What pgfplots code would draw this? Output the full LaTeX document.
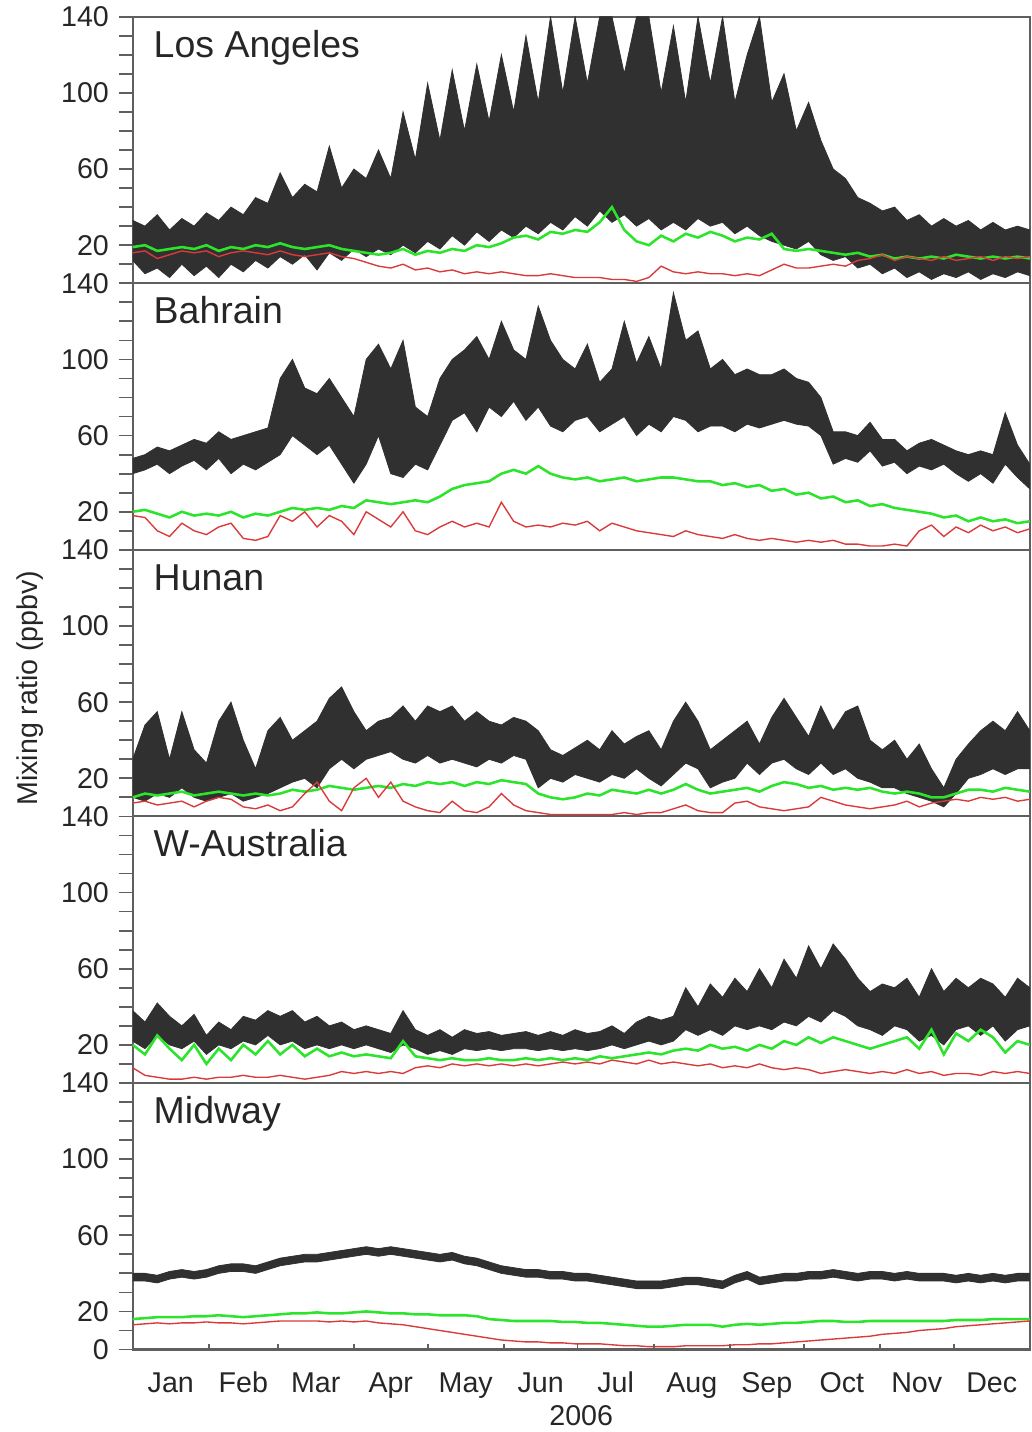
\documentclass[border=0pt]{standalone}
\usepackage{pgfplots}
\pgfplotsset{compat=1.18}
\usepackage{pgfplotstable}
\usepgfplotslibrary{fillbetween}
\usepackage{fontspec}
\setmainfont{Liberation Sans}
\definecolor{band}{RGB}{48,48,48}
\definecolor{grn}{RGB}{45,228,45}
\definecolor{rdc}{RGB}{218,58,58}
\definecolor{frame}{RGB}{95,95,95}

\pgfplotstableread{
d lo hi gr rd
0 12 33 19 16
5 5 30 20 17
10 8 36 17 13
15 3 28 18 15
20 10 34 19 17
25 4 30 18 16
30 9 37 20 17
35 3 33 17 14
40 10 40 19 16
45 6 36 18 17
50 12 45 20 16
55 8 42 19 15
60 14 58 21 17
65 10 45 19 15
70 15 52 18 14
75 7 48 19 15
80 16 72 20 16
85 12 50 18 14
90 18 60 17 13
95 14 55 16 11
100 18 70 15 9
105 15 55 16 8
110 20 90 18 10
115 16 65 15 7
120 22 105 17 8
125 18 75 16 6
130 25 112 18 7
135 20 80 17 5
140 27 115 20 6
145 22 85 19 5
150 28 120 21 6
155 24 90 24 5
160 30 130 25 4
165 26 95 23 4
170 32 140 27 5
175 28 100 26 4
180 35 140 28 3
185 30 105 27 3
190 38 140 32 3
195 32 140 40 2
200 36 110 28 2
205 30 140 22 1
210 34 140 20 3
215 28 100 25 9
220 32 135 22 6
225 28 95 26 5
230 34 140 24 6
235 30 105 27 5
240 32 140 25 5
245 26 95 22 4
250 30 120 24 5
255 25 140 23 4
260 22 95 26 7
265 20 110 18 10
270 18 80 17 8
275 22 95 18 8
280 15 75 17 9
285 12 60 16 10
290 14 55 15 9
295 8 45 16 12
300 10 42 14 13
305 5 38 15 15
310 8 40 13 12
315 3 33 14 14
320 6 36 13 13
325 2 30 14 12
330 5 34 13 14
335 3 30 15 12
340 6 33 14 13
345 2 28 13 14
350 5 32 14 12
355 3 28 13 14
360 6 30 14 13
365 4 28 13 14
}\tabLA

\pgfplotstableread{
d lo hi gr rd
0 40 48 20 18
5 42 50 21 17
10 45 54 19 10
15 40 52 17 7
20 44 55 20 14
25 47 58 18 10
30 42 56 19 8
35 48 62 18 12
40 40 58 20 14
45 45 60 17 6
50 42 62 19 5
55 46 64 18 7
60 50 90 20 18
65 60 100 22 15
70 55 85 21 20
75 50 82 22 12
80 55 90 21 18
85 45 80 23 15
90 35 70 22 8
95 45 100 26 20
100 60 108 25 16
105 40 95 24 12
110 38 110 25 20
115 45 75 26 10
120 42 70 25 8
125 55 90 28 12
130 68 100 32 15
135 72 105 34 12
140 62 112 35 14
145 75 100 36 12
150 70 120 40 25
155 78 105 42 15
160 68 100 40 12
165 75 128 44 13
170 65 110 40 12
175 62 100 38 14
180 68 95 37 13
185 70 108 38 15
190 62 88 36 10
195 66 95 37 14
200 70 120 38 12
205 60 98 36 10
210 66 112 37 9
215 62 95 38 8
220 70 135 38 7
225 68 110 37 10
230 62 115 36 8
235 65 95 36 7
240 65 100 34 6
245 62 92 35 8
250 66 95 33 6
255 64 92 34 5
260 66 92 31 6
265 68 95 32 5
270 66 90 29 4
275 65 88 30 5
280 60 80 27 4
285 45 62 28 5
290 48 62 25 3
295 46 60 26 3
300 52 67 23 2
305 44 58 24 2
310 46 58 22 3
315 40 52 21 2
320 44 56 20 10
325 42 58 19 13
330 45 55 17 7
335 40 52 18 12
340 36 50 15 9
345 40 52 17 13
350 35 50 15 10
355 45 72 16 12
360 38 55 14 9
365 32 45 15 11
}\tabBH

\pgfplotstableread{
d lo hi gr rd
0 10 30 10 7
5 8 48 12 8
10 12 55 11 6
15 10 30 12 7
20 15 55 13 8
25 10 35 11 5
30 8 28 12 8
35 10 50 13 10
40 12 60 12 9
45 8 40 11 5
50 10 25 12 4
55 12 45 11 6
60 15 52 12 3
65 18 40 14 5
70 20 45 13 12
75 15 50 14 18
80 25 62 16 8
85 30 68 15 3
90 25 55 14 15
95 30 45 15 20
100 32 50 16 10
105 34 52 15 18
110 30 58 17 8
115 28 50 16 5
120 32 58 18 3
125 28 55 17 2
130 30 58 18 8
135 28 50 16 3
140 26 55 18 2
145 30 50 17 5
150 28 48 19 12
155 32 52 18 6
160 30 50 17 3
165 15 45 12 2
170 20 35 10 1
175 18 32 9 1
180 22 36 10 1
185 20 40 12 1
190 18 35 11 1
195 22 45 14 1
200 20 38 13 2
205 25 42 12 1
210 20 45 14 2
215 16 35 12 2
220 22 50 14 4
225 28 60 17 6
230 25 50 14 3
235 15 35 12 2
240 18 40 13 2
245 20 45 14 7
250 28 50 15 8
255 22 38 13 5
260 28 52 16 4
265 30 62 18 3
270 25 52 17 4
275 22 42 15 5
280 28 58 16 10
285 22 45 14 8
290 25 55 15 6
295 20 58 14 5
300 18 40 15 4
305 15 35 13 5
310 15 40 12 6
315 12 30 13 8
320 10 38 12 5
325 8 25 10 7
330 5 15 10 8
335 12 30 12 9
340 20 38 14 8
345 22 45 14 10
350 25 50 13 9
355 22 45 15 10
360 25 55 14 8
365 25 45 13 9
}\tabHU

\pgfplotstableread{
d lo hi gr rd
0 22 38 20 8
5 18 32 15 4
10 25 42 25 3
15 20 35 18 2
20 18 30 12 2
25 22 36 20 3
30 15 25 10 2
35 20 32 18 3
40 18 28 12 3
45 22 35 20 4
50 20 33 15 3
55 25 38 22 3
60 20 35 15 4
65 22 38 20 3
70 18 32 14 2
75 20 35 18 3
80 18 30 14 4
85 20 32 16 6
90 18 28 14 5
95 20 30 15 6
100 18 28 14 5
105 16 26 13 6
110 20 38 22 5
115 18 28 14 8
120 15 25 13 9
125 17 28 12 8
130 15 24 13 10
135 18 28 12 9
140 17 26 12 10
145 18 27 13 9
150 17 25 12 10
155 18 26 12 9
160 18 27 13 10
165 17 25 12 9
170 18 27 13 10
175 17 25 12 11
180 18 28 13 10
185 17 26 12 11
190 18 27 14 10
195 20 30 13 12
200 18 26 14 11
205 20 32 15 10
210 22 35 16 12
215 20 33 15 10
220 22 35 17 11
225 28 50 18 10
230 25 40 17 9
235 28 52 20 10
240 25 45 18 8
245 30 55 19 9
250 28 48 17 8
255 30 60 20 10
260 28 50 18 8
265 32 65 22 7
270 30 55 20 8
275 35 72 24 7
280 32 60 21 5
285 38 73 24 6
290 35 65 22 7
295 30 55 20 6
300 28 48 18 5
305 25 52 20 6
310 30 50 22 5
315 28 55 24 7
320 22 45 18 5
325 25 60 28 6
330 20 48 15 4
335 28 55 26 5
340 30 50 22 5
345 25 55 28 4
350 30 52 24 6
355 22 45 16 5
360 28 55 22 6
365 30 50 20 5
}\tabWA

\pgfplotstableread{
d lo hi gr rd
0 36 40 16 13
5 36 40 16.5 13.5
10 35 39 17 14
15 37 41 17 13.5
20 38 42 17 14
25 37 41 17.5 14
30 38 42 17.5 14.5
35 40 44 18 14
40 41 45 17.5 14
45 41 45 17 13.5
50 40 44 17.5 14
55 42 46 18 14.5
60 44 48 18.5 15
65 45 49 19 15
70 46 50 19 15
75 46 50 19.5 15
80 47 51 19 14.5
85 48 52 19 15
90 49 53 19.5 14.5
95 50 54 20 15
100 49 53 19.5 14
105 50 54 19 13.5
110 49 53 19 13
115 48 52 18.5 12
120 47 51 18.5 11
125 46 50 18 10
130 47 51 18 9
135 45 49 18 8
140 44 48 17.5 7
145 42 46 16 6
150 40 44 15.5 5
155 39 43 15 4.5
160 38 42 15 4
165 38 42 15 4
170 37 41 15 3.5
175 37 41 14.5 3.5
180 36 40 14.5 3
185 36 40 14 3
190 35 39 14 3
195 34 38 13.5 2.5
200 33 37 13 2
205 32 36 12.5 2
210 32 36 12 1.5
215 32 36 12 1.5
220 33 37 12.5 1.5
225 34 38 13 2
230 34 38 13 2
235 33 37 13 2
240 32 36 12 2
245 35 39 13 2.5
250 37 41 13.5 2.5
255 34 38 13 3
260 35 39 13.5 3
265 36 40 14 3.5
270 36 40 14 4
275 37 41 14.5 4.5
280 37 41 15 5
285 38 42 15 5.5
290 37 41 14.5 6
295 36 40 14.5 6.5
300 37 41 15 7
305 37 41 15 8
310 36 40 15 8.5
315 37 41 15 9
320 36 40 15 10
325 36 40 15 10.5
330 36 40 15 11
335 35 39 15.5 12
340 36 40 15.5 12.5
345 35 39 15.5 13
350 36 40 16 13.5
355 35 39 16 14
360 36 40 16 14.5
365 36 40 16 15
}\tabMW

\pgfplotsset{
  panel/.style={
    scale only axis, width=453bp, height=134.6bp,
    xmin=0, xmax=365, ymin=0, ymax=140,
    axis line style={frame, line width=1.1pt},
    ytick={20,60,100,140}, minor ytick={0,10,...,140},
    ytick pos=left, tick align=outside,
    major tick length=7bp, minor tick length=7bp,
    tick style={frame, line width=0.9pt},
    xtick=\empty,
    yticklabel style={font=\fontsize{14.5}{16}\selectfont, text=black!85, xshift=-1.5bp},
    /pgf/number format/assume math mode=true,
  },
}

\newcommand{\series}[2]{%
  \addplot[band, line width=0.4pt, name path=hi#2] table[x=d,y=hi]{#1};
  \addplot[band, line width=0.4pt, name path=lo#2] table[x=d,y=lo]{#1};
  \addplot[fill=band, draw=none] fill between[of=hi#2 and lo#2];
  \addplot[grn, line width=1.3pt] table[x=d,y=gr]{#1};
  \addplot[rdc, line width=0.7pt] table[x=d,y=rd]{#1};
}
\newcommand{\ptitle}[1]{\node[anchor=base west, inner sep=0pt, font=\fontsize{19}{21}\selectfont, text=black!85] at (rel axis cs:0.023,0.848) {#1};}

\begin{document}
\begin{tikzpicture}

\begin{axis}[panel, at={(67bp,-7bp)}, anchor=north west]
\series{\tabLA}{a}
\ptitle{Los Angeles}
\end{axis}

\begin{axis}[panel, at={(67bp,-141.6bp)}, anchor=north west]
\series{\tabBH}{b}
\ptitle{Bahrain}
\end{axis}

\begin{axis}[panel, at={(67bp,-276.2bp)}, anchor=north west]
\series{\tabHU}{c}
\ptitle{Hunan}
\end{axis}

\begin{axis}[panel, at={(67bp,-410.8bp)}, anchor=north west]
\series{\tabWA}{e}
\ptitle{W-Australia}
\end{axis}

\begin{axis}[panel, at={(67bp,-545.4bp)}, anchor=north west,
  ytick={0,20,60,100,140},
  extra x ticks={15.5,45,74.5,105,135.5,166,196.5,227.5,258,288.5,319,349.5},
  extra x tick labels={Jan,Feb,Mar,Apr,May,Jun,Jul,Aug,Sep,Oct,Nov,Dec},
  extra x tick style={major tick length=0pt,
     xticklabel style={font=\fontsize{14.5}{16}\selectfont, text=black!85,
       text height=1.55ex, text depth=0.3ex, yshift=-10bp}},
  xlabel={2006},
  xlabel style={font=\fontsize{14.5}{16}\selectfont, text=black!85, yshift=9bp},
]
\series{\tabMW}{f}
\ptitle{Midway}
\pgfplotsinvokeforeach{31,59,90,120,151,181,212,243,273,304,334}{
  \draw[frame, line width=0.9pt] (axis cs:#1,0) -- ++(0,3bp);
}
\end{axis}

\node[rotate=90, font=\fontsize{14.5}{16}\selectfont, text=black!85] at (15bp,-346bp) {Mixing ratio (ppbv)};
\path (0,0) rectangle (521bp,-716bp);
\end{tikzpicture}
\end{document}
